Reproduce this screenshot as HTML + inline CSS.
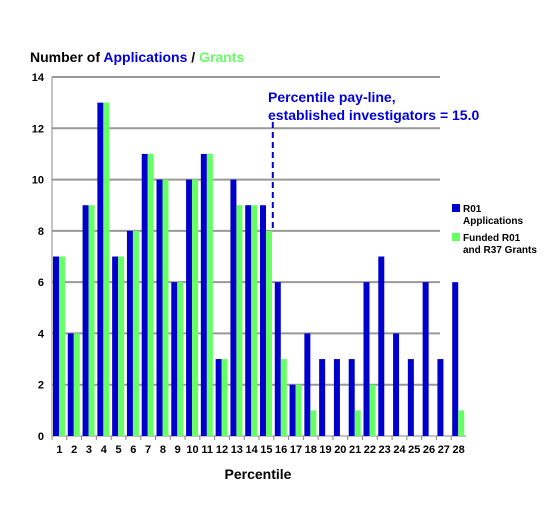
<!DOCTYPE html>
<html><head><meta charset="utf-8"><style>
body{margin:0;background:#fff;font-family:"Liberation Sans",Arial,sans-serif;}
svg text{font-family:"Liberation Sans",Arial,sans-serif;font-weight:bold;}
</style></head><body>
<svg id="chart" width="550" height="522" xmlns="http://www.w3.org/2000/svg">
<text x="30" y="62" font-size="14"><tspan fill="#000">Number of </tspan><tspan fill="#0000dd">Applications</tspan><tspan fill="#000"> / </tspan><tspan fill="#66ff66">Grants</tspan></text>
<text x="268" y="102" font-size="14" fill="#0000dd"><tspan x="268">Percentile pay-line,</tspan><tspan x="268" dy="18">established investigators = 15.0</tspan></text>
<text x="258" y="479" font-size="14" text-anchor="middle">Percentile</text>
<g>
<rect x="452" y="204" width="8" height="8" fill="#0000cc"/>
<text x="463" y="212" font-size="10"><tspan x="463">R01</tspan><tspan x="463" dy="12">Applications</tspan></text>
<rect x="452" y="233" width="8" height="8" fill="#66ff66"/>
<text x="463" y="241" font-size="10"><tspan x="463">Funded R01</tspan><tspan x="463" dy="12">and R37 Grants</tspan></text>
</g>
<g id="plot"></g>
</svg>
<script>
const categories=[1,2,3,4,5,6,7,8,9,10,11,12,13,14,15,16,17,18,19,20,21,22,23,24,25,26,27,28];
const applications=[7,4,9,13,7,8,11,10,6,10,11,3,10,9,9,6,2,4,3,3,3,6,7,4,3,6,3,6];
const grants=[7,4,9,13,7,8,11,10,6,10,11,3,9,9,8,3,2,1,0,0,1,2,0,0,0,0,0,1];
const yTicks=[0,2,4,6,8,10,12,14];
const payline=15;
const NS="http://www.w3.org/2000/svg";
const g=document.getElementById('plot');
const L=52,R=466,T=77,B=436,yMax=14;
const step=(R-L)/categories.length;
const y=v=>B-(v/yMax)*(B-T);
const x=i=>L+i*step;
function mk(t,a){const e=document.createElementNS(NS,t);for(const k in a)e.setAttribute(k,a[k]);g.appendChild(e);return e;}
yTicks.forEach(v=>{
 const ln=mk('line',{x1:L,x2:v===0?R:440,y1:y(v),y2:y(v),stroke:v===0?'#888':'#999','stroke-width':v===0?1:2});
 
 
 const tx=mk('text',{x:L-8,y:y(v)+4,'font-size':11,'text-anchor':'end'});tx.textContent=v;
 
 
});
mk('line',{x1:L,x2:L,y1:T,y2:B,stroke:'#888','stroke-width':1});
categories.forEach((c,i)=>{
 const t=mk('line',{x1:x(i),x2:x(i),y1:B,y2:B+4,stroke:'#888'});
 
 
 const b=mk('rect',{x:x(i)+1,y:y(applications[i]),width:6,height:B-y(applications[i]),fill:'#0000cc'});
 
 
 if(grants[i]>0){const gb=mk('rect',{x:x(i)+7,y:y(grants[i]),width:6,height:B-y(grants[i]),fill:'#66ff66'});
 
 }
 const tx=mk('text',{x:x(i)+step/2,y:B+17,'font-size':11,'text-anchor':'middle'});tx.textContent=c;
 
 
});
const px=x(payline-1)+step-1;
const d=mk('line',{x1:px,x2:px,y1:122,y2:y(8),stroke:'#0000cc','stroke-width':2,'stroke-dasharray':'6,4'});


</script>
</body></html>
